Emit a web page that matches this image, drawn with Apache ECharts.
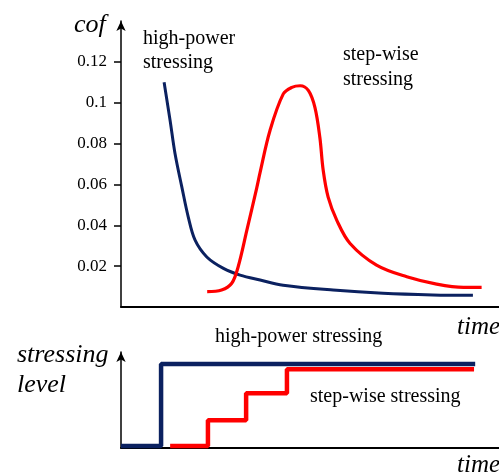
<!DOCTYPE html>
<html>
<head>
<meta charset="utf-8">
<script src="https://cdn.jsdelivr.net/npm/echarts@6/dist/echarts.min.js"></script>
<style>
  html, body { margin: 0; padding: 0; background: #fff; }
  #chart { width: 499px; height: 476px; }
</style>
</head>
<body>
<div id="chart"></div>
<script>
// cof vs time (time in arbitrary units 0..100)
const highPowerCof = [
  [11.4, 0.110], [13.0, 0.0912], [14.3, 0.075], [16.1, 0.0587], [17.8, 0.044],
  [19.6, 0.0327], [22.7, 0.0245], [27.1, 0.0189], [31.5, 0.0156], [36.8, 0.0132],
  [42.9, 0.0107], [56.1, 0.0083], [69.3, 0.0067], [82.5, 0.0059], [93.1, 0.0057]
];
const stepWiseCof = [
  [22.8, 0.0075], [26.6, 0.0083], [29.3, 0.0116], [31.0, 0.0197], [33.3, 0.0376],
  [35.9, 0.0582], [36.8, 0.0659], [39.4, 0.0863], [42.9, 0.1042], [45.2, 0.1075],
  [47.4, 0.1083], [49.6, 0.1059], [51.3, 0.0977], [52.6, 0.0831], [53.5, 0.0668],
  [54.8, 0.0538], [57.1, 0.0424], [60.6, 0.0311], [67.6, 0.0205], [75.6, 0.0148],
  [83.5, 0.0112], [90.6, 0.0096], [95.4, 0.0096]
];
const cofTicks = [0.02, 0.04, 0.06, 0.08, 0.1, 0.12];

// stressing level vs time (level 0..10)
const highPowerLevel = [[0, 0.2], [10.6, 0.2], [10.6, 8.75], [93.7, 8.75]];
const stepWiseLevel = [
  [13.0, 0.2], [23.0, 0.2], [23.0, 2.9], [33.1, 2.9], [33.1, 5.7],
  [43.9, 5.7], [43.9, 8.2], [93.4, 8.2]
];

const navy = "#0b2160";
const red = "#ff0000";
const serif = "'Liberation Serif', 'DejaVu Serif', serif";

const chart = echarts.init(document.getElementById("chart"));

const axisLineStyle = { color: "#000", width: 2 };

function label(text, x, y, size, italic) {
  return {
    type: "text",
    x: x,
    y: y,
    style: {
      text: text,
      fill: "#000",
      font: (italic ? "italic " : "") + size + "px " + serif,
      textVerticalAlign: "middle",
      verticalAlign: "middle",
    },
  };
}

chart.setOption({
  animation: false,
  backgroundColor: "#fff",
  grid: [
    { left: 121, right: 0, top: 21, bottom: 169 },
    { left: 121, right: 0, top: 352, bottom: 28 },
  ],
  xAxis: [
    {
      gridIndex: 0,
      type: "value",
      min: 0,
      max: 100,
      axisLine: { lineStyle: axisLineStyle },
      axisTick: { show: false },
      axisLabel: { show: false },
      splitLine: { show: false },
    },
    {
      gridIndex: 1,
      type: "value",
      min: 0,
      max: 100,
      axisLine: { lineStyle: axisLineStyle },
      axisTick: { show: false },
      axisLabel: { show: false },
      splitLine: { show: false },
    },
  ],
  yAxis: [
    {
      gridIndex: 0,
      type: "value",
      min: 0,
      max: 0.14,
      axisLine: {
        show: true,
        symbol: ["none", "arrow"],
        symbolSize: [7, 10],
        lineStyle: { color: "#000", width: 1.5 },
      },
      axisTick: {
        show: true,
        length: 7,
        customValues: cofTicks,
        lineStyle: { color: "#000", width: 1.5 },
      },
      axisLabel: {
        customValues: cofTicks,
        margin: 14,
        color: "#000",
        fontSize: 17,
        fontFamily: serif,
      },
      splitLine: { show: false },
    },
    {
      gridIndex: 1,
      type: "value",
      min: 0,
      max: 10,
      axisLine: {
        show: true,
        symbol: ["none", "arrow"],
        symbolSize: [7, 10],
        lineStyle: { color: "#000", width: 1.5 },
      },
      axisTick: { show: false },
      axisLabel: { show: false },
      splitLine: { show: false },
    },
  ],
  series: [
    {
      type: "line",
      xAxisIndex: 0,
      yAxisIndex: 0,
      data: highPowerCof,
      smooth: 0.35,
      showSymbol: false,
      lineStyle: { color: navy, width: 3 },
    },
    {
      type: "line",
      xAxisIndex: 0,
      yAxisIndex: 0,
      data: stepWiseCof,
      smooth: 0.35,
      showSymbol: false,
      lineStyle: { color: red, width: 3.2 },
    },
    {
      type: "line",
      xAxisIndex: 1,
      yAxisIndex: 1,
      data: highPowerLevel,
      showSymbol: false,
      lineStyle: { color: navy, width: 4.5 },
    },
    {
      type: "line",
      xAxisIndex: 1,
      yAxisIndex: 1,
      data: stepWiseLevel,
      showSymbol: false,
      lineStyle: { color: red, width: 4.5 },
    },
  ],
  graphic: [
    label("cof", 74, 25, 26, true),
    label("high-power", 143, 39, 20),
    label("stressing", 143, 63, 20),
    label("step-wise", 343, 55, 20),
    label("stressing", 343, 80, 20),
    label("time", 457, 327, 25, true),
    label("high-power stressing", 215, 337, 20),
    label("step-wise stressing", 310, 397, 20),
    label("stressing", 17, 355, 26, true),
    label("level", 17, 385, 26, true),
    label("time", 457, 465, 25, true),
  ],
});
</script>
</body>
</html>
